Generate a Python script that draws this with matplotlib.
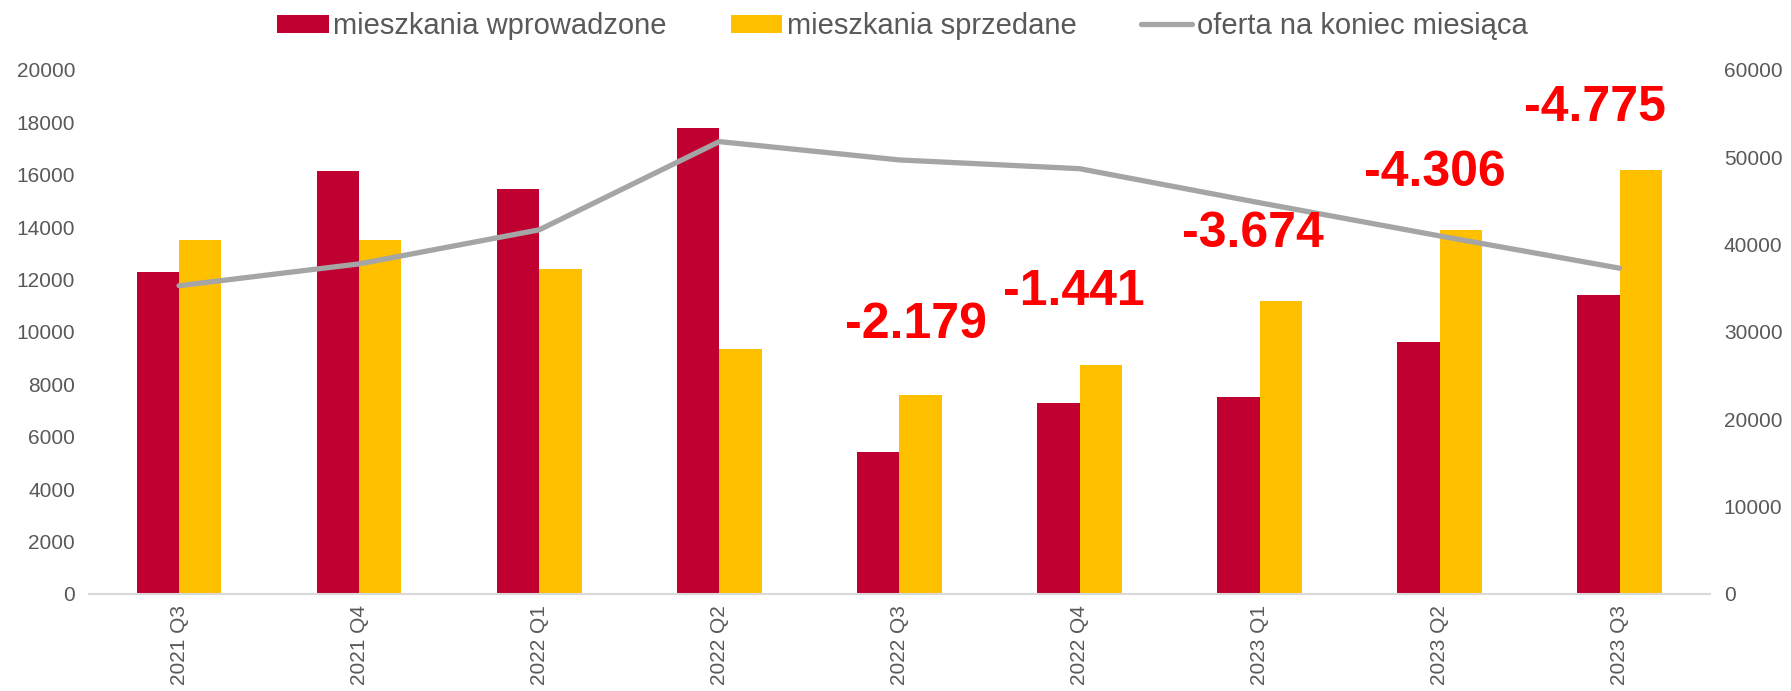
import numpy as np
import matplotlib.pyplot as plt

# kwartaly
quarters = ["2021 Q3", "2021 Q4", "2022 Q1", "2022 Q2", "2022 Q3",
            "2022 Q4", "2023 Q1", "2023 Q2", "2023 Q3"]

# mieszkania wprowadzone / sprzedane (lewa os)
introduced = [12300, 16150, 15450, 17800, 5420, 7300, 7530, 9600, 11400]
sold = [13500, 13500, 12400, 9350, 7600, 8740, 11200, 13900, 16180]

# oferta na koniec miesiaca (prawa os)
offer = [35300, 37800, 41700, 51800, 49700, 48700, 44800, 41000, 37300]

# roznice wpisane na wykresie
gap_labels = ["-2.179", "-1.441", "-3.674", "-4.306", "-4.775"]
gap_pos = [(4.09, 10270), (4.97, 11530), (5.96, 13740), (6.97, 16070), (7.86, 18550)]

RED = "#C00030"
YELLOW = "#FFC000"
GRAY = "#A5A5A5"
TXT = "#595959"

plt.rcParams['font.family'] = ['Liberation Sans', 'DejaVu Sans']

fig = plt.figure(figsize=(17.91, 6.91), dpi=100)
ax = fig.add_axes([0.0497, 0.1404, 0.905, 0.7583])

x = np.arange(len(quarters))
w = 0.235
ax.bar(x - w / 2, introduced, w, color=RED, label="mieszkania wprowadzone")
ax.bar(x + w / 2, sold, w, color=YELLOW, label="mieszkania sprzedane")

ax.set_ylim(0, 20000)
ax.set_yticks(np.arange(0, 20001, 2000))
ax.set_xlim(-0.5, len(quarters) - 0.5)
ax.set_xticks(x)
ax.set_xticklabels(quarters, rotation=90, fontsize=15, color=TXT)
ax.tick_params(axis='y', labelsize=15, labelcolor=TXT, length=0, pad=10)
ax.tick_params(axis='x', length=0, pad=8)
for s in ['top', 'left', 'right']:
    ax.spines[s].set_visible(False)
ax.spines['bottom'].set_color('#D9D9D9')
ax.spines['bottom'].set_linewidth(1.5)

ax2 = ax.twinx()
ax2.plot(x, offer, color=GRAY, lw=3.8, solid_capstyle='round',
         label="oferta na koniec miesiąca")
ax2.set_ylim(0, 60000)
ax2.set_yticks(np.arange(0, 60001, 10000))
ax2.tick_params(axis='y', labelsize=15, labelcolor=TXT, length=0, pad=10)
for s in ['top', 'left', 'right', 'bottom']:
    ax2.spines[s].set_visible(False)

for txt, (px, py) in zip(gap_labels, gap_pos):
    ax2.text(px, py * 3, txt, color="#FF0000", fontsize=36, fontweight='bold',
             ha='center', va='center')

h1, l1 = ax.get_legend_handles_labels()
h2, l2 = ax2.get_legend_handles_labels()
fig.legend(h1 + h2, l1 + l2, loc='center', bbox_to_anchor=(0.504, 0.962), ncol=3,
           frameon=False, fontsize=21, labelcolor=TXT, handlelength=1.75,
           handleheight=0.6, handletextpad=0.17, columnspacing=2.2,
           borderpad=0)

fig.savefig("out.png", dpi=100)
